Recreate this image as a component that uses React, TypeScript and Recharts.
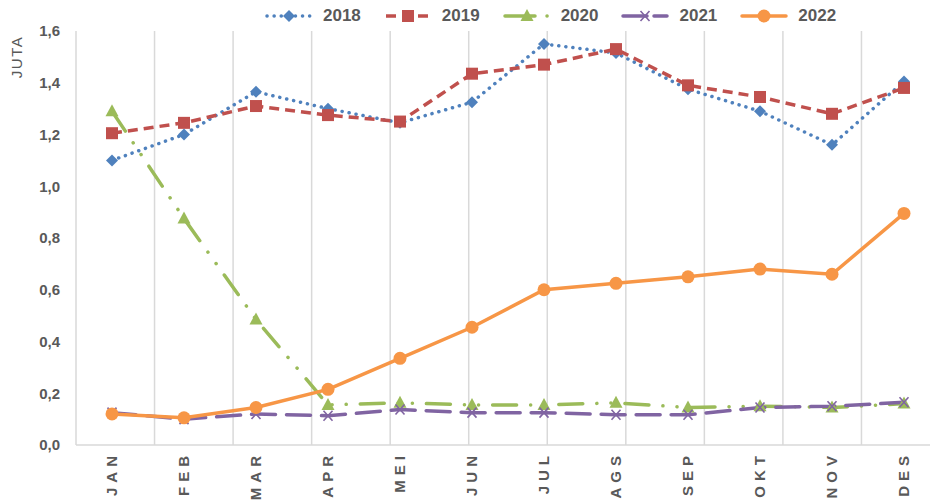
import { CartesianGrid, Line, LineChart, XAxis, YAxis, Label } from "recharts";

const MONTHS = ["JAN", "FEB", "MAR", "APR", "MEI", "JUN", "JUL", "AGS", "SEP", "OKT", "NOV", "DES"];
const Y2018 = [1.1, 1.2, 1.365, 1.3, 1.245, 1.325, 1.55, 1.515, 1.375, 1.29, 1.16, 1.405];
const Y2019 = [1.205, 1.245, 1.31, 1.275, 1.25, 1.435, 1.47, 1.53, 1.39, 1.345, 1.28, 1.38];
const Y2020 = [1.29, 0.875, 0.485, 0.155, 0.163, 0.155, 0.155, 0.163, 0.145, 0.15, 0.145, 0.16];
const Y2021 = [0.125, 0.1, 0.12, 0.113, 0.137, 0.125, 0.125, 0.117, 0.117, 0.145, 0.15, 0.165];
const Y2022 = [0.12, 0.105, 0.145, 0.215, 0.335, 0.455, 0.6, 0.625, 0.65, 0.68, 0.66, 0.895];
const Y_TICKS = [0, 0.2, 0.4, 0.6, 0.8, 1.0, 1.2, 1.4, 1.6];
const GRID_TICKS = [0, 1, 2, 3, 4, 5, 6, 7, 8, 9, 10, 11, 12];

const data = MONTHS.map((m, i) => ({
  month: m,
  y2018: Y2018[i],
  y2019: Y2019[i],
  y2020: Y2020[i],
  y2021: Y2021[i],
  y2022: Y2022[i],
}));

const FONT = '"Liberation Sans", Arial, sans-serif';
const TEXT = "#595959";

type Marker = "diamond" | "square" | "triangle" | "x" | "circle";

const SERIES: {
  key: string;
  name: string;
  color: string;
  dash?: string;
  legendDash?: string;
  cap: "round" | "butt";
  marker: Marker;
}[] = [
  { key: "y2018", name: "2018", color: "#4F81BD", dash: "0.1 7", cap: "round", marker: "diamond" },
  { key: "y2019", name: "2019", color: "#C0504D", dash: "10 6", cap: "butt", marker: "square" },
  { key: "y2020", name: "2020", color: "#9BBB59", dash: "24 14 0.1 14 0.1 14", legendDash: "30 12 0.1 12", cap: "round", marker: "triangle" },
  { key: "y2021", name: "2021", color: "#8064A2", dash: "24 11", legendDash: "24 7", cap: "round", marker: "x" },
  { key: "y2022", name: "2022", color: "#F79646", cap: "round", marker: "circle" },
];

function drawMarker(marker: Marker, x: number, y: number, color: string) {
  switch (marker) {
    case "diamond":
      return <path d={`M${x},${y - 6}L${x + 6},${y}L${x},${y + 6}L${x - 6},${y}Z`} fill={color} />;
    case "square":
      return <rect x={x - 6} y={y - 6} width={12} height={12} fill={color} />;
    case "triangle":
      return <path d={`M${x},${y - 7}L${x + 6.5},${y + 5}L${x - 6.5},${y + 5}Z`} fill={color} />;
    case "x":
      return (
        <path
          d={`M${x - 4.5},${y - 5}L${x + 4.5},${y + 5}M${x + 4.5},${y - 5}L${x - 4.5},${y + 5}`}
          stroke={color}
          strokeWidth={1.6}
          fill="none"
        />
      );
    default:
      return <circle cx={x} cy={y} r={6.5} fill={color} />;
  }
}

const makeDot = (marker: Marker, color: string) => (props: any) => {
  const { cx, cy, index } = props;
  if (cx == null || cy == null) return <g key={index} />;
  return <g key={index}>{drawMarker(marker, cx, cy, color)}</g>;
};

function MonthTick({ x, y, payload }: any) {
  return (
    <g transform={`translate(${x},${y - 2}) rotate(-90)`}>
      <text
        textAnchor="end"
        dy="0.36em"
        fill={TEXT}
        fontSize={15}
        fontWeight="bold"
        fontFamily={FONT}
        letterSpacing={5}
      >
        {payload.value}
      </text>
    </g>
  );
}

function ChartLegend() {
  return (
    <div
      style={{
        position: "absolute",
        top: 7,
        left: 265,
        display: "flex",
        alignItems: "center",
        fontFamily: FONT,
        height: 18,
      }}
    >
      {SERIES.map((s) => (
        <div key={s.key} style={{ display: "flex", alignItems: "center", marginRight: 23 }}>
          <svg width={48} height={16}>
            <line
              x1={2}
              y1={8}
              x2={46}
              y2={8}
              stroke={s.color}
              strokeWidth={3.5}
              strokeDasharray={s.legendDash ?? s.dash}
              strokeLinecap={s.cap}
            />
            {drawMarker(s.marker, 24, 8, s.color)}
          </svg>
          <span style={{ marginLeft: 10, fontSize: 17, fontWeight: "bold", color: TEXT, lineHeight: "18px" }}>
            {s.name}
          </span>
        </div>
      ))}
    </div>
  );
}

export default function App() {
  return (
    <div style={{ position: "absolute", left: 0, top: 0, width: 930, height: 501, overflow: "hidden", background: "#fff" }}>
      <LineChart width={950} height={501} data={data} margin={{ top: 31, right: 10, bottom: 0, left: 26 }}>
        <XAxis xAxisId="grid" type="number" domain={[0, 12]} ticks={GRID_TICKS} allowDataOverflow hide />
        <CartesianGrid xAxisId="grid" horizontal={false} stroke="#D9D9D9" strokeWidth={1.5} />
        <XAxis
          xAxisId="cat"
          dataKey="month"
          scale="band"
          interval={0}
          height={56}
          tickLine={false}
          axisLine={{ stroke: "#D9D9D9", strokeWidth: 1.5 }}
          tick={<MonthTick />}
        />
        <YAxis
          domain={[0, 1.6]}
          ticks={Y_TICKS}
          width={50}
          axisLine={false}
          tickLine={false}
          tickMargin={10}
          tickFormatter={(v: number) => v.toFixed(1).replace(".", ",")}
          tick={{ fill: TEXT, fontSize: 15, fontWeight: "bold", fontFamily: FONT }}
        >
          <Label
            content={() => (
              <text
                transform="translate(17,57) rotate(-90)"
                textAnchor="middle"
                dy="0.36em"
                fill={TEXT}
                fontSize={15}
                letterSpacing={1.5}
                fontFamily={FONT}
              >
                JUTA
              </text>
            )}
          />
        </YAxis>
        {SERIES.map((s) => (
          <Line
            key={s.key}
            xAxisId="cat"
            dataKey={s.key}
            name={s.name}
            type="linear"
            stroke={s.color}
            strokeWidth={3.5}
            strokeDasharray={s.dash}
            strokeLinecap={s.cap}
            dot={makeDot(s.marker, s.color)}
            activeDot={false}
            isAnimationActive={false}
          />
        ))}
      </LineChart>
      <ChartLegend />
    </div>
  );
}
